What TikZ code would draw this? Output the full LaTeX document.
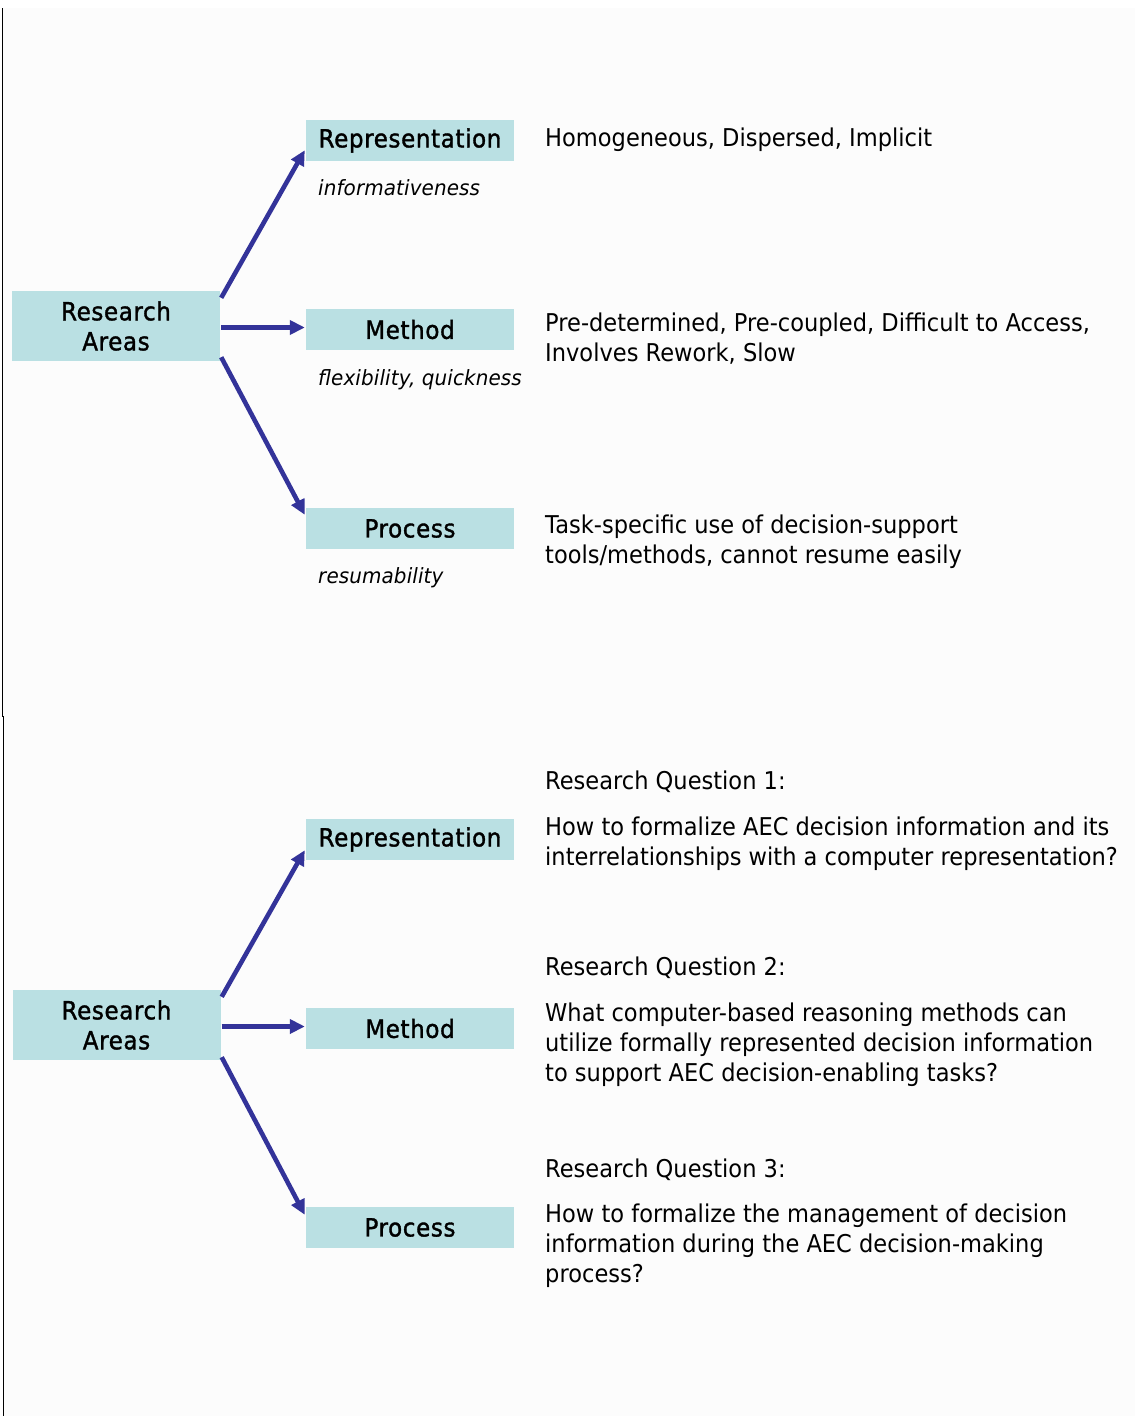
\documentclass[tikz,border=0pt]{standalone}
\usepackage{fontspec}
\setmainfont{DejaVu Sans}[FakeStretch=0.92]
\newfontfamily\boxfont{DejaVu Sans}[FakeStretch=0.92, FakeBold=1.4, LetterSpace=2.5]
\newfontfamily\qualityfont{DejaVu Sans Oblique}[FakeStretch=0.95, LetterSpace=0.5]
\usetikzlibrary{arrows.meta,calc}
\definecolor{boxfill}{HTML}{BAE0E3}
\definecolor{arrowblue}{HTML}{333399}
\definecolor{paper}{HTML}{FCFCFC}
% invisible strut fixing the top of every first text line
\newcommand\firstline{\rule{0pt}{24pt}}
\begin{document}
\begin{tikzpicture}[x=1pt,y=-1pt,
  areabox/.style={fill=boxfill, minimum width=208pt, minimum height=41pt,
    inner sep=0pt, font=\boxfont\fontsize{25}{30}\selectfont},
  rootbox/.style={areabox, minimum height=70pt, align=center},
  note/.style={font=\fontsize{24.5}{30.3}\selectfont, anchor=north west,
    inner sep=0pt, align=left},
  quality/.style={font=\qualityfont\fontsize{21}{25}\selectfont,
    anchor=base west, inner sep=0pt},
  link/.style={draw=arrowblue, line width=4.6pt,
    -{Triangle[length=15pt,width=14pt]}}]

% page and background
\useasboundingbox (0,0) rectangle (1135,1416);
\fill[white] (0,0) rectangle (1135,1416);
\fill[paper] (3,8) rectangle (1135,1416);
\draw[line width=1.8pt] (2.5,8) -- (2.5,717);
\draw[line width=1.8pt] (3.5,716) -- (3.5,1416);

% ---------- upper panel: research areas and observed problems ----------
\node[rootbox] (ra1) at (116,326) {Research\\Areas};
\node[areabox] (rep1) at (410,140.5) {Representation};
\node[areabox] (met1) at (410,329.5) {Method};
\node[areabox] (pro1) at (410,528.5) {Process};

\draw[link] ($(ra1.north east)+(1,7)$) -- ($(rep1.south west)+(-1,-11)$);
\draw[link] ($(ra1.east)+(1,1.5)$) -- ($(met1.west)+(-1,-2)$);
\draw[link] ($(ra1.south east)+(1,-4)$) -- ($(pro1.north west)+(-1,7)$);

\node[quality] (q1) at (318,195) {informativeness};
\node[quality] (q2) at (318,385) {flexibility, quickness};
\node[quality] (q3) at (318,583) {resumability};

\node[note] (n1) at (545,146-24) {\firstline Homogeneous, Dispersed, Implicit};
\node[note] (n2) at (545,331-24) {\firstline Pre-determined, Pre-coupled, Difficult to Access,\\Involves Rework, Slow};
\node[note] (n3) at (545,533-24) {\firstline Task-specific use of decision-support\\tools/methods, cannot resume easily};

% ---------- lower panel: research areas and research questions ----------
\node[rootbox] (ra2) at (116.5,1025) {Research\\Areas};
\node[areabox] (rep2) at (410,839.5) {Representation};
\node[areabox] (met2) at (410,1028.5) {Method};
\node[areabox] (pro2) at (410,1227.5) {Process};

\draw[link] ($(ra2.north east)+(1,7)$) -- ($(rep2.south west)+(-1,-10)$);
\draw[link] ($(ra2.east)+(1,1.5)$) -- ($(met2.west)+(-1,-2)$);
\draw[link] ($(ra2.south east)+(1,-3)$) -- ($(pro2.north west)+(-1,8)$);

\node[note] (t1) at (545,789-24) {\firstline Research Question 1:};
\node[note] (b1) at (545,835-24) {\firstline How to formalize AEC decision information and its\\interrelationships with a computer representation?};
\node[note] (t2) at (545,975-24) {\firstline Research Question 2:};
\node[note] (b2) at (545,1021-24) {\firstline What computer-based reasoning methods can\\utilize formally represented decision information\\to support AEC decision-enabling tasks?};
\node[note] (t3) at (545,1177-24) {\firstline Research Question 3:};
\node[note] (b3) at (545,1222-24) {\firstline How to formalize the management of decision\\information during the AEC decision-making\\process?};
\end{tikzpicture}
\end{document}
